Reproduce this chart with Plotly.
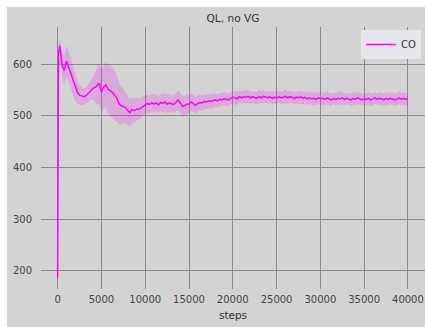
import plotly.graph_objects as go

# Training curve: mean return of the CO agent and its spread
steps = [0, 100] + [250 * i for i in range(1, 161)]

co_mean = [
    187, 622,
    636, 600, 588, 606, 595, 583, 569, 556, 546,
    540, 538, 537, 539, 544, 550, 553, 555, 558, 564,
    546, 556, 560, 552, 549, 546, 540, 535, 524, 520,
    518, 516, 511, 506, 512, 510, 513, 513, 515, 519,
    521, 524, 522, 525, 523, 525, 521, 526, 524, 527,
    523, 525, 524, 522, 526, 531, 525, 518, 520, 523,
    522, 527, 524, 520, 524, 526, 525, 528, 527, 529,
    528, 530, 531, 529, 532, 531, 533, 532, 531, 534,
    536, 535, 533, 537, 535, 537, 536, 538, 535, 537,
    536, 534, 537, 535, 538, 536, 535, 537, 534, 536,
    535, 537, 535, 536, 538, 535, 537, 536, 534, 536,
    535, 537, 534, 536, 533, 535, 533, 534, 532, 535,
    533, 534, 532, 535, 533, 531, 534, 532, 534, 533,
    535, 532, 534, 533, 531, 534, 532, 535, 533, 531,
    533, 532, 534, 531, 533, 535, 532, 534, 533, 531,
    534, 532, 534, 533, 531, 533, 535, 532, 534, 532,
    533,
]

co_std = [
    2, 10,
    15, 25, 28, 30, 30, 30, 30, 27, 22,
    19, 17, 16, 16, 17, 19, 22, 28, 35, 40,
    40, 42, 44, 47, 48, 48, 47, 45, 40, 36,
    33, 30, 28, 27, 25, 24, 22, 20, 20, 19,
    18, 18, 17, 17, 18, 18, 17, 17, 18, 18,
    18, 18, 17, 17, 18, 18, 20, 20, 19, 18,
    18, 17, 17, 16, 16, 15, 15, 15, 14, 14,
    14, 14, 13, 13, 13, 13, 13, 12, 12, 12,
    12, 12, 13, 12, 11, 12, 13, 12, 12, 11,
    12, 12, 13, 12, 12, 11, 12, 12, 13, 12,
    12, 11, 12, 12, 13, 12, 12, 11, 12, 12,
    12, 13, 12, 11, 12, 12, 12, 13, 12, 11,
    12, 12, 12, 13, 12, 12, 11, 12, 12, 13,
    12, 12, 11, 12, 12, 12, 13, 12, 12, 11,
    12, 12, 12, 13, 12, 12, 11, 12, 12, 12,
    13, 12, 12, 11, 12, 12, 12, 13, 12, 12,
    12,
]

x_ticks = [0, 5000, 10000, 15000, 20000, 25000, 30000, 35000, 40000]
y_ticks = [200, 300, 400, 500, 600]

upper = [m + s for m, s in zip(co_mean, co_std)]
lower = [m - s for m, s in zip(co_mean, co_std)]

MAGENTA = "#ff00ff"
PANEL = "#d3d3d3"
GRID = "#8a8a8a"
TEXT = "#444444"
FONT = "DejaVu Sans"

fig = go.Figure()
fig.add_trace(go.Scatter(
    x=steps, y=upper, mode="lines", line=dict(width=0),
    hoverinfo="skip", showlegend=False,
))
fig.add_trace(go.Scatter(
    x=steps, y=lower, mode="lines", line=dict(width=0),
    fill="tonexty", fillcolor="rgba(255,0,255,0.2)",
    hoverinfo="skip", showlegend=False,
))
fig.add_trace(go.Scatter(
    x=steps, y=co_mean, mode="lines", name="CO",
    line=dict(color=MAGENTA, width=1.5),
))

W, H = 425, 327
L, R, T, B = 41, 0, 27, 38
pw, ph = W - L - R, H - T - B

def px_x(p):
    return (p - L) / pw

def px_y(p):
    return (H - B - p) / ph

fig.update_layout(
    width=W, height=H,
    margin=dict(l=L, r=R, t=T, b=B, pad=0),
    paper_bgcolor="white",
    plot_bgcolor=PANEL,
    font=dict(family=FONT, size=10, color=TEXT),
    title=dict(
        text="QL, no VG", x=px_x(233), xref="paper", xanchor="center",
        y=1 - 18 / H, yref="container", yanchor="middle",
        font=dict(family=FONT, size=10.6, color="#333333"),
    ),
    shapes=[dict(
        type="rect", xref="paper", yref="paper", layer="below",
        x0=px_x(7), x1=px_x(W + 2), y0=px_y(H + 2), y1=px_y(7),
        fillcolor=PANEL, line=dict(width=0),
    )],
    legend=dict(
        x=px_x(421), y=px_y(30), xanchor="right", yanchor="top",
        bgcolor="#e7e6ec", borderwidth=0,
        font=dict(family=FONT, size=10, color="#333333"),
        itemwidth=30, tracegroupgap=0,
    ),
    showlegend=True,
)

fig.update_xaxes(
    range=[-1900, 41950], tickvals=x_ticks,
    ticktext=[str(v) for v in x_ticks],
    showgrid=True, gridcolor=GRID, gridwidth=1, zeroline=False,
    showline=False, ticks="", ticklabelstandoff=3,
    title=dict(text="steps", standoff=7, font=dict(family=FONT, size=10.5, color="#333333")),
)
fig.update_yaxes(
    range=[165, 672], tickvals=y_ticks,
    ticktext=[str(v) for v in y_ticks],
    showgrid=True, gridcolor=GRID, gridwidth=1, zeroline=False,
    showline=False, ticks="outside", ticklen=4, tickcolor="rgba(0,0,0,0)",
    ticklabelstandoff=2,
)

fig.write_html("out.html")
